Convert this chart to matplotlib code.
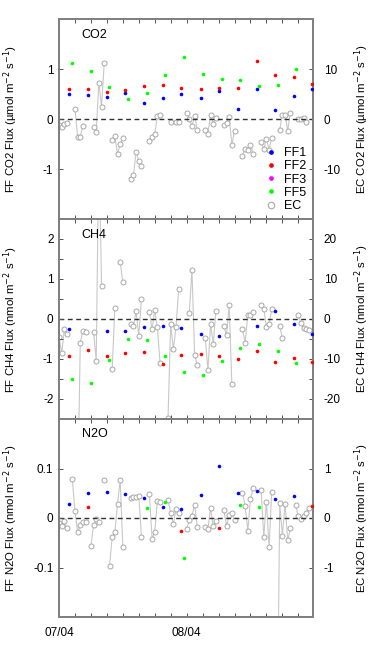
import numpy as np
import matplotlib
matplotlib.use("Agg")
import matplotlib.pyplot as plt
from matplotlib.ticker import MultipleLocator

plt.rcParams['font.family'] = ['Liberation Sans', 'DejaVu Sans']

nan = np.nan
# ---------------- data ----------------
# FF chamber measurement times (hours since 07/04 00:00)
ff_t = [1.95, 5.5, 8.95, 12.46, 15.97, 19.47, 22.98, 26.7, 30.1, 33.7, 37.2, 40.7, 44.2, 47.65]
ff5_t = [2.44, 5.95, 9.45, 12.96, 16.47, 19.97, 23.48, 27.1, 30.6, 34.1, 37.6, 41.1, 44.6]

co2_ff1 = [0.50, 0.49, 0.44, 0.52, 0.32, 0.42, 0.50, 0.43, 0.56, 0.20, 0.60, 0.18, 0.46, 0.60]
co2_ff2 = [0.60, 0.60, 0.54, 0.59, 0.67, 0.68, 0.63, 0.60, 0.62, 0.62, 1.16, 0.88, 0.85, 0.71]
co2_ff5 = [1.12, 0.96, 0.65, 0.40, 0.53, 0.89, 1.25, 0.91, 0.80, 0.79, 0.66, 0.69, 1.00]

ch4_ff1 = [-0.26, nan, -0.29, -0.31, -0.20, -0.175, -0.22, -0.37, -0.43, nan, -0.17, 0.19, -0.13, -0.375]
ch4_ff2 = [-0.925, -0.78, -0.93, -0.86, -0.825, -1.13, -0.91, -0.88, -0.93, -0.99, -0.81, -1.07, -0.97, -1.08]
ch4_ff5 = [-1.49, -1.61, -1.03, -0.50, -0.525, -0.92, -1.32, -1.40, -1.06, -0.72, -0.63, -0.80, -1.09]

n2o_ff1 = [0.028, 0.051, 0.053, 0.049, 0.041, 0.022, 0.018, 0.046, 0.106, 0.051, 0.054, 0.039, 0.045, nan]
n2o_ff2 = [nan, 0.022, nan, nan, nan, nan, -0.026, nan, -0.020, nan, nan, nan, nan, 0.024]
n2o_ff5 = [nan, nan, nan, nan, 0.020, 0.033, -0.080, nan, nan, 0.026, 0.022, nan, nan]

# EC half-hourly fluxes (index i -> 0.5*i hours)
ec_t = [0.5 * i for i in range(96)]
co2_ec = [-1.1, -1.5, -0.9, -0.7, nan, nan, 2.1, -3.5, -3.5, -1.3,
          nan, nan, nan, -1.5, -2.5, 7.3, 2.5, 11.2, nan, nan,
          -4.1, -3.3, -7.0, -5.0, -3.8, nan, nan, -11.9, -11.1, -6.6,
          -8.3, -9.3, nan, nan, -4.3, -3.5, -3.0, 0.6, 0.8, nan,
          nan, nan, -0.5, nan, -0.5, -0.5, nan, nan, 1.2, 0.1,
          -1.4, 0.6, -2.1, nan, nan, -2.1, -2.9, 0.9, -0.9, 0.3,
          nan, nan, -1.1, -0.8, 0.5, -5.2, -2.3, nan, nan, -7.3,
          -6.0, -6.2, -5.1, -6.9, nan, nan, -4.5, -6.0, -3.9, -6.1,
          -3.7, nan, nan, -2.1, 0.9, 0.9, -2.3, 1.3, nan, nan,
          0.1, 0.1, 0.3, -0.5, nan, nan]
ch4_ec = [-4.4, -8.6, -2.5, -3.75, nan, nan, nan, -45.0, -5.9, -3.0,
          -3.3, nan, nan, -3.2, -10.5, 45.0, 8.25, nan, nan, nan,
          -12.6, 2.8, nan, 14.3, 9.2, nan, nan, -1.3, -1.75, 2.0,
          -4.25, 5.0, nan, nan, 1.7, -2.6, 2.25, -2.1, -11.1, nan,
          nan, -24.7, -1.2, -7.6, -2.0, 7.4, nan, nan, nan, 1.6,
          12.25, -9.0, -11.6, nan, nan, -4.8, -12.75, -1.2, -6.25, 1.9,
          nan, nan, -1.7, -4.1, 3.4, -16.25, nan, nan, nan, -2.5,
          -5.9, 1.1, 0.9, 1.8, nan, nan, 3.6, 2.6, -2.0, -1.3,
          2.4, nan, nan, -1.7, -4.75, nan, nan, nan, nan, nan,
          1.0, -1.1, -2.3, -2.6, -2.75, nan]
n2o_ec = [-0.11, -0.16, -0.07, -0.2, nan, 0.79, 0.14, -0.29, -0.145, -0.09,
          -0.08, nan, -0.57, -0.145, -0.03, -0.08, nan, 0.76, nan, -0.97,
          -0.39, -0.29, 0.28, 0.77, -0.58, nan, nan, 0.40, 0.42, 0.43,
          0.45, -0.375, nan, nan, 0.48, -0.42, -0.28, 0.34, 0.32, nan,
          nan, 0.37, 0.10, -0.12, 0.18, 0.10, nan, nan, -0.22, -0.05,
          0.05, 0.26, -0.18, nan, nan, -0.18, -0.22, 0.20, -0.165, -0.07,
          nan, nan, 0.16, -0.16, 0.066, 0.10, -0.05, nan, nan, 0.50,
          0.25, -0.26, 0.38, 0.60, nan, nan, 0.56, -0.375, 0.33, -0.585,
          0.53, nan, -5.0, 0.30, -0.355, 0.28, -0.45, -0.21, nan, 0.26,
          0.04, -0.03, 0.04, 0.10, 0.20, nan]

xtick_labels = {0: '07/04', 24: '08/04'}

# ---------------- figure ----------------
W, H = 374, 652
fig = plt.figure(figsize=(W / 100, H / 100), dpi=100)
left, right = 59 / W, 312.7 / W
bounds = [(19, 219), (219, 419), (419, 617)]

spine_c = '#808080'
tick_c = '#505050'
fs = 8.5
lfs = 8.2

cfg = [
    dict(name='CO2', ff=(co2_ff1, co2_ff2, co2_ff5), ec=co2_ec, ylim=(-2, 2), scale=10,
         lt=[-1, 0, 1], ltl=['-1', '0', '1'], rt=[-10, 0, 10], minor=None,
         ll='FF CO2 Flux (\u00b5mol m$^{-2}$ s$^{-1}$)', rl='EC CO2 Flux (\u00b5mol m$^{-2}$ s$^{-1}$)'),
    dict(name='CH4', ff=(ch4_ff1, ch4_ff2, ch4_ff5), ec=ch4_ec, ylim=(-2.5, 2.5), scale=10,
         lt=[-2, -1, 0, 1, 2], ltl=['-2', '-1', '0', '1', '2'], rt=[-20, -10, 0, 10, 20], minor=0.5,
         ll='FF CH4 Flux (nmol m$^{-2}$ s$^{-1}$)', rl='EC CH4 Flux (nmol m$^{-2}$ s$^{-1}$)'),
    dict(name='N2O', ff=(n2o_ff1, n2o_ff2, n2o_ff5), ec=n2o_ec, ylim=(-0.2, 0.2), scale=10,
         lt=[-0.1, 0, 0.1], ltl=['-0.1', '0', '0.1'], rt=[-1, 0, 1], minor=None,
         ll='FF N2O Flux (nmol m$^{-2}$ s$^{-1}$)', rl='EC N2O Flux (nmol m$^{-2}$ s$^{-1}$)'),
]

for k, c in enumerate(cfg):
    top, bot = bounds[k]
    ax = fig.add_axes([left, 1 - bot / H, right - left, (bot - top) / H])
    ax2 = ax.twinx()
    ax.set_zorder(ax2.get_zorder() + 1)
    ax.patch.set_visible(False)

    ax.set_xlim(0, 47.7)
    ax.set_ylim(*c['ylim'])
    ax2.set_ylim(c['ylim'][0] * c['scale'], c['ylim'][1] * c['scale'])

    ax.axhline(0, ls=(0, (3.5, 2.5)), color='#303030', lw=1.0, zorder=1)

    # EC
    ax2.plot(ec_t, c['ec'], '-', color='#c8c8c8', lw=0.8, zorder=2)
    ax2.plot(ec_t, c['ec'], 'o', mfc='white', mec='#a8a8a8', mew=0.7, ms=3.6, zorder=3, ls='none')

    ff1, ff2, ff5 = c['ff']
    ms = 2.6
    h1, = ax.plot(ff_t, ff1, 'o', color='#0000ff', ms=ms, mew=0, zorder=5)
    h2, = ax.plot(ff_t, ff2, 'o', color='#ff0000', ms=ms, mew=0, zorder=5)
    h3, = ax.plot([], [], 'o', color='#ff00ff', ms=ms, mew=0)
    h5, = ax.plot(ff5_t, ff5, 'o', color='#00ff00', ms=ms, mew=0, zorder=5)

    ax.text(0.09, 0.95 if k < 2 else 0.955, c['name'], transform=ax.transAxes, fontsize=9,
            ha='left', va='top')

    # ticks
    ticks = np.arange(0, 48, 3)
    ax.set_xticks(ticks)
    if k == 2:
        ax.set_xticklabels([xtick_labels.get(int(t), '') for t in ticks], fontsize=fs)
    else:
        ax.tick_params(axis='x', labelbottom=False)
    ax.set_yticks(c['lt'])
    ax.set_yticklabels(c['ltl'], fontsize=fs)
    ax2.set_yticks(c['rt'])
    ax2.set_yticklabels([str(v) for v in c['rt']], fontsize=fs)
    if c['minor']:
        ax.yaxis.set_minor_locator(MultipleLocator(c['minor']))
        ax2.yaxis.set_minor_locator(MultipleLocator(c['minor'] * c['scale']))
    ax.tick_params(axis='both', which='both', direction='in', length=3, width=0.7,
                   color=tick_c, top=True, pad=4)
    ax.tick_params(axis='x', pad=7)
    ax2.tick_params(axis='y', which='both', direction='in', length=3, width=0.7,
                    color=tick_c, pad=8)
    for a in (ax, ax2):
        for s in a.spines.values():
            s.set_color(spine_c)
            s.set_linewidth(1.4)

    ax.set_ylabel(c['ll'], fontsize=lfs)
    ax2.set_ylabel(c['rl'], fontsize=lfs, rotation=90)
    ax.yaxis.set_label_coords(-0.155, 0.5)
    ax2.yaxis.set_label_coords(1.155, 0.5)

    if k == 0:
        hec, = ax.plot([], [], 'o', mfc='white', mec='#a8a8a8', mew=0.8, ms=3.6, ls='none')
        ax.legend([h1, h2, h3, h5, hec], ['FF1', 'FF2', 'FF3', 'FF5', 'EC'],
                  loc='lower right', frameon=False, fontsize=9, handlelength=0.8,
                  handletextpad=0.6, labelspacing=0.1, borderaxespad=0.15,
                  markerscale=1.3)

fig.savefig('out.png', dpi=100)
